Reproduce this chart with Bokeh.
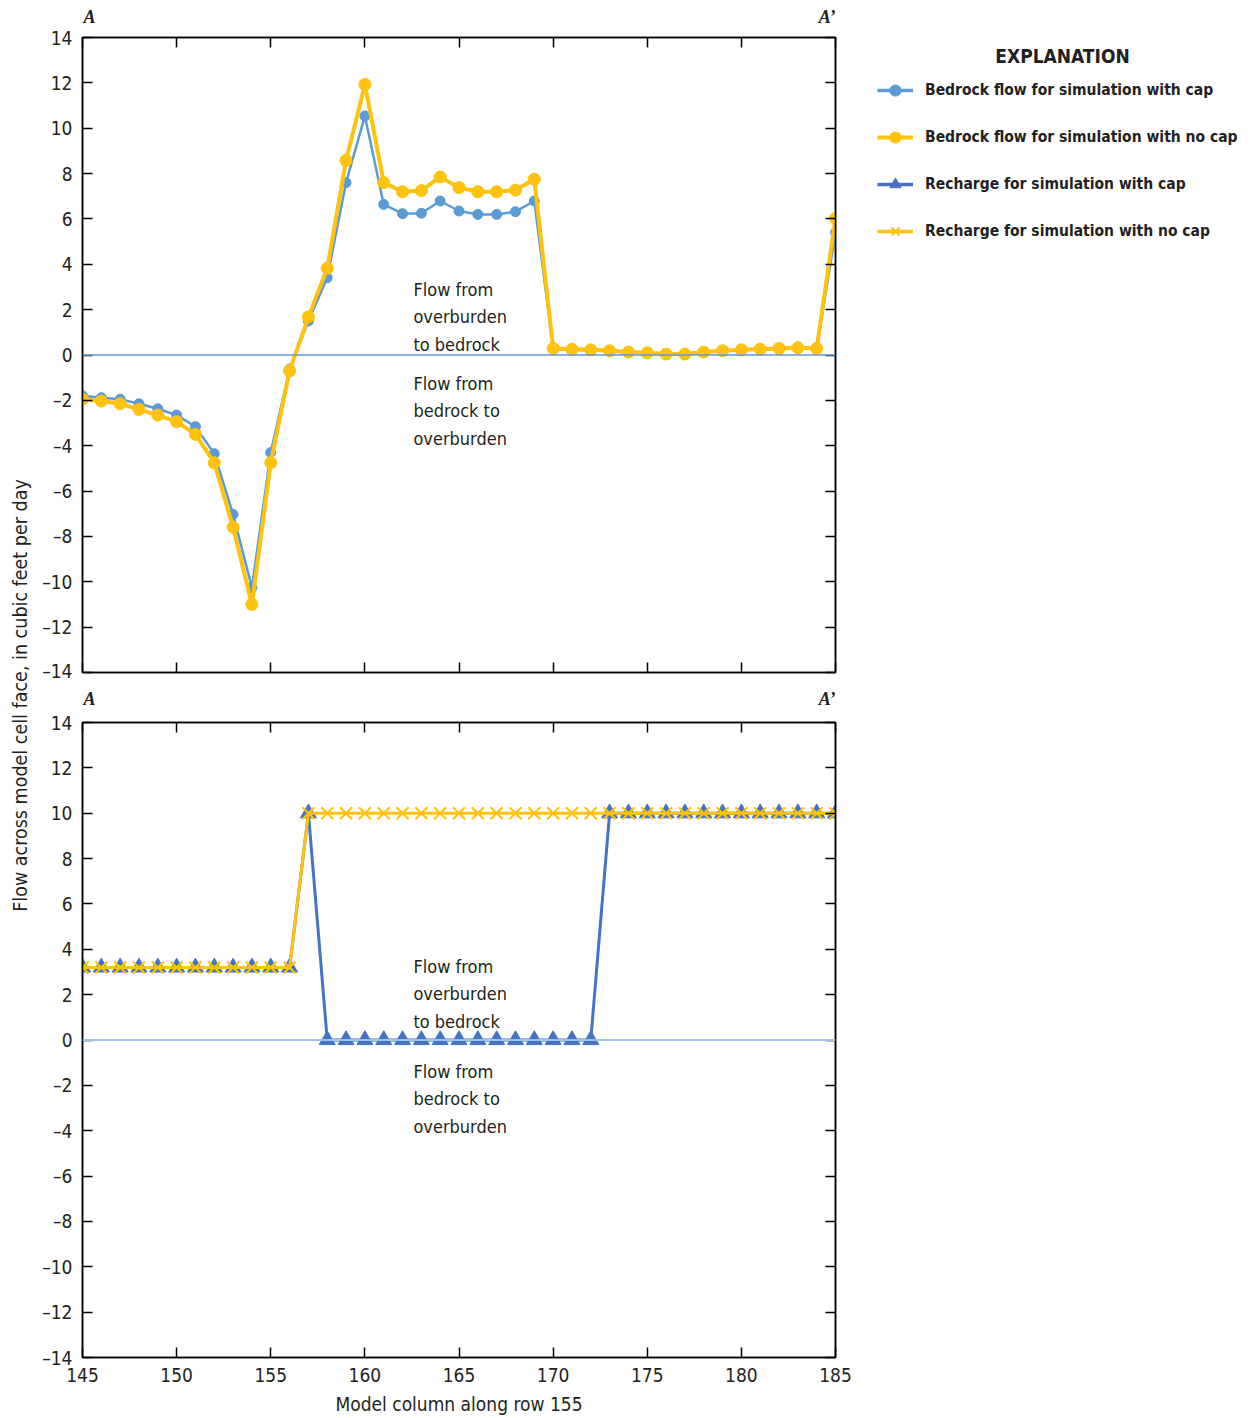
import math
from bokeh.plotting import figure
from bokeh.models import (Span, Label, Legend, LegendItem, LinearAxis, FixedTicker,
                          Range1d, ColumnDataSource)
from bokeh.layouts import row, column
from bokeh.embed import file_html
from bokeh.resources import INLINE

# ---------------- data ----------------
columns = [145, 146, 147, 148, 149, 150, 151, 152, 153, 154, 155, 156, 157, 158, 159,
           160, 161, 162, 163, 164, 165, 166, 167, 168, 169, 170, 171, 172, 173, 174,
           175, 176, 177, 178, 179, 180, 181, 182, 183, 184, 185]

bedrock_cap = [-1.80, -1.88, -1.95, -2.15, -2.37, -2.65, -3.16, -4.35, -7.03, -10.26,
               -4.30, -0.62, 1.50, 3.41, 7.60, 10.54, 6.64, 6.23, 6.25, 6.79,
               6.35, 6.20, 6.20, 6.32, 6.79, 0.27, 0.23, 0.21, 0.17, 0.11,
               0.08, 0.02, 0.02, 0.11, 0.17, 0.21, 0.24, 0.27, 0.30, 0.27, 5.40]

bedrock_nocap = [-1.95, -2.03, -2.15, -2.40, -2.65, -2.94, -3.50, -4.75, -7.60, -11.00,
                 -4.75, -0.70, 1.68, 3.82, 8.58, 11.93, 7.60, 7.20, 7.25, 7.85,
                 7.38, 7.20, 7.20, 7.27, 7.75, 0.29, 0.25, 0.23, 0.19, 0.13,
                 0.10, 0.04, 0.04, 0.13, 0.19, 0.23, 0.26, 0.29, 0.32, 0.29, 6.03]

recharge_cap = [3.2, 3.2, 3.2, 3.2, 3.2, 3.2, 3.2, 3.2, 3.2, 3.2, 3.2, 3.2, 10.0, 0.0, 0.0,
                0.0, 0.0, 0.0, 0.0, 0.0, 0.0, 0.0, 0.0, 0.0, 0.0, 0.0, 0.0, 0.0, 10.0, 10.0,
                10.0, 10.0, 10.0, 10.0, 10.0, 10.0, 10.0, 10.0, 10.0, 10.0, 10.0]

recharge_nocap = [3.2, 3.2, 3.2, 3.2, 3.2, 3.2, 3.2, 3.2, 3.2, 3.2, 3.2, 3.2, 10.0, 10.0, 10.0,
                  10.0, 10.0, 10.0, 10.0, 10.0, 10.0, 10.0, 10.0, 10.0, 10.0, 10.0, 10.0, 10.0, 10.0, 10.0,
                  10.0, 10.0, 10.0, 10.0, 10.0, 10.0, 10.0, 10.0, 10.0, 10.0, 10.0]

x_ticks = [145, 150, 155, 160, 165, 170, 175, 180, 185]
y_ticks = [-14, -12, -10, -8, -6, -4, -2, 0, 2, 4, 6, 8, 10, 12, 14]
y_tick_labels = ["\u201314", "\u201312", "\u201310", "\u20138", "\u20136", "\u20134", "\u20132",
                 "0", "2", "4", "6", "8", "10", "12", "14"]

x_title = "Model column along row 155"
y_title = "Flow across model cell face, in cubic feet per day"
legend_title = "EXPLANATION"
legend_labels = ["Bedrock flow for simulation with cap",
                 "Bedrock flow for simulation with no cap",
                 "Recharge for simulation with cap",
                 "Recharge for simulation with no cap"]
note_up = "Flow from\noverburden\nto bedrock"
note_down = "Flow from\nbedrock to\noverburden"
sec_left = "A"
sec_right = "A\u2019"

# ---------------- style ----------------
FONT = "'Liberation Sans Narrow', 'Arial Narrow', 'DejaVu Sans Condensed', sans-serif"
SERIF = "'Liberation Serif', 'DejaVu Serif', serif"
TXT = "#231f20"
BLUE = "#5b9bd5"
DBLUE = "#4472c4"
YELLOW = "#ffc20e"

FW, FH = 753, 635
LEFTW = 38
BORDER_L = 44
BORDER_R = 20
STRIP1_H, STRIP2_H = 26, 28
TOP_T, TOP_B = 11, 9
BOT_T, BOT_B = 13, 55

src = ColumnDataSource(dict(x=columns, bc=bedrock_cap, bn=bedrock_nocap,
                            rc=recharge_cap, rn=recharge_nocap))
xr = Range1d(145, 185)


def style_axis(ax, labels):
    ax.major_tick_in = 10
    ax.major_tick_out = 0
    ax.minor_tick_in = 0
    ax.minor_tick_out = 0
    ax.axis_line_color = "black"
    ax.axis_line_width = 1.5
    ax.major_tick_line_color = "black"
    ax.major_tick_line_width = 1.5
    ax.major_label_text_font = FONT
    if labels:
        ax.major_label_text_font_size = "19px"
        ax.major_label_text_color = TXT
        ax.major_label_standoff = 10
    else:
        ax.major_label_text_font_size = "1px"
        ax.major_label_text_color = None
        ax.major_label_standoff = 0


def bare(fig):
    fig.xgrid.visible = False
    fig.ygrid.visible = False
    fig.outline_line_color = None
    return fig


def make_panel(top_border, bottom_border, show_x_labels):
    p = figure(frame_width=FW, frame_height=FH,
               min_border_left=BORDER_L, min_border_right=BORDER_R,
               min_border_top=top_border, min_border_bottom=bottom_border,
               x_range=xr, y_range=Range1d(-14, 14),
               output_backend="svg", toolbar_location=None,
               x_axis_location=None, y_axis_location=None)
    p.xgrid.visible = False
    p.ygrid.visible = False
    p.outline_line_color = "black"
    p.outline_line_width = 1.5

    for loc in ["below", "above"]:
        ax = LinearAxis(ticker=FixedTicker(ticks=x_ticks, minor_ticks=[]))
        lab = show_x_labels and loc == "below"
        style_axis(ax, lab)
        if lab:
            ax.axis_label = x_title
            ax.axis_label_text_font = FONT
            ax.axis_label_text_font_size = "19px"
            ax.axis_label_text_font_style = "normal"
            ax.axis_label_text_color = TXT
            ax.axis_label_standoff = 8
        p.add_layout(ax, loc)
    for loc in ["left", "right"]:
        ax = LinearAxis(ticker=FixedTicker(ticks=y_ticks, minor_ticks=[]))
        lab = loc == "left"
        style_axis(ax, lab)
        if lab:
            ax.major_label_overrides = {t: s for t, s in zip(y_ticks, y_tick_labels)}
        p.add_layout(ax, loc)
    return p


def make_strip(h, mid):
    s = figure(frame_width=FW, frame_height=h,
               min_border_left=BORDER_L, min_border_right=BORDER_R,
               min_border_top=0, min_border_bottom=0,
               x_range=xr, y_range=Range1d(h, 0),
               output_backend="svg", toolbar_location=None,
               x_axis_location=None, y_axis_location=None)
    bare(s)
    s.add_layout(Label(x=145, y=mid, text=sec_left, text_align="left",
                       text_baseline="middle", x_offset=1,
                       text_font=SERIF, text_font_style="bold italic",
                       text_font_size="18px", text_color=TXT))
    s.add_layout(Label(x=185, y=mid, text=sec_right, text_align="right",
                       text_baseline="middle", x_offset=0,
                       text_font=SERIF, text_font_style="bold italic",
                       text_font_size="18px", text_color=TXT))
    return s


# ---------------- top panel ----------------
strip1 = make_strip(STRIP1_H, 16)
top = make_panel(TOP_T, TOP_B, False)
top.add_layout(Span(location=0, dimension="width", line_color=BLUE, line_width=1.5))
top.line("x", "bc", source=src, line_color=BLUE, line_width=2.5)
top.scatter("x", "bc", source=src, marker="circle", size=10, fill_color=BLUE, line_color=BLUE)
top.line("x", "bn", source=src, line_color=YELLOW, line_width=4)
top.scatter("x", "bn", source=src, marker="circle", size=12, fill_color=YELLOW, line_color=YELLOW)

for txt, yv in [(note_up, 3.35), (note_down, -0.8)]:
    top.add_layout(Label(x=162.58, y=yv, text=txt, text_align="left", text_baseline="top",
                         text_font=FONT, text_font_size="18px", text_color=TXT,
                         text_line_height=1.3))

# ---------------- bottom panel ----------------
strip2 = make_strip(STRIP2_H, 17.5)
bot = make_panel(BOT_T, BOT_B, True)
bot.add_layout(Span(location=0, dimension="width", line_color="#9dc3e6", line_width=2))
bot.line("x", "rc", source=src, line_color=DBLUE, line_width=3)
bot.scatter("x", "rc", source=src, marker="triangle", size=16, fill_color=DBLUE, line_color=DBLUE)
bot.line("x", "rn", source=src, line_color=YELLOW, line_width=3)
bot.scatter("x", "rn", source=src, marker="x", size=17, line_color=YELLOW, line_width=2)

for txt, yv in [(note_up, 3.7), (note_down, -0.93)]:
    bot.add_layout(Label(x=162.58, y=yv, text=txt, text_align="left", text_baseline="top",
                         text_font=FONT, text_font_size="18px", text_color=TXT,
                         text_line_height=1.3))

total_h = STRIP1_H + (TOP_T + FH + TOP_B) + STRIP2_H + (BOT_T + FH + BOT_B)

# ---------------- left strip with the shared y-axis title ----------------
left = bare(figure(frame_width=LEFTW, frame_height=total_h, min_border=0,
                   x_range=Range1d(0, LEFTW), y_range=Range1d(total_h, 0),
                   output_backend="svg", toolbar_location=None,
                   x_axis_location=None, y_axis_location=None))
left.add_layout(Label(x=20, y=695, text=y_title, angle=math.pi / 2,
                      text_align="center", text_baseline="middle",
                      text_font=FONT, text_font_size="19.5px", text_color=TXT))

# ---------------- legend strip (explanation) ----------------
# The series are drawn here too (for the legend swatches), but the strip's
# x range lies far from the data columns, so only the legend shows them.
x0 = LEFTW + BORDER_L + FW + BORDER_R
LEG_W, LEG_H = 1244 - x0, 270
leg = bare(figure(frame_width=LEG_W, frame_height=LEG_H, min_border=0,
                  x_range=Range1d(-LEG_W, 0), y_range=Range1d(LEG_H, 0),
                  output_backend="svg", toolbar_location=None,
                  x_axis_location=None, y_axis_location=None))

r1l = leg.line("x", "bc", source=src, line_color=BLUE, line_width=3.5)
r1s = leg.scatter("x", "bc", source=src, marker="circle", size=10,
                  fill_color=BLUE, line_color=BLUE)
r2l = leg.line("x", "bn", source=src, line_color=YELLOW, line_width=4)
r2s = leg.scatter("x", "bn", source=src, marker="circle", size=11,
                  fill_color=YELLOW, line_color=YELLOW)
r3l = leg.line("x", "rc", source=src, line_color=DBLUE, line_width=3.5)
r3s = leg.scatter("x", "rc", source=src, marker="triangle", size=15,
                  fill_color=DBLUE, line_color=DBLUE)
r4l = leg.line("x", "rn", source=src, line_color=YELLOW, line_width=3.5)
r4s = leg.scatter("x", "rn", source=src, marker="x", size=15,
                  line_color=YELLOW, line_width=2)

GH, SP = 28, 19
legend = Legend(items=[
    LegendItem(label=legend_labels[0], renderers=[r1l, r1s]),
    LegendItem(label=legend_labels[1], renderers=[r2l, r2s]),
    LegendItem(label=legend_labels[2], renderers=[r3l, r3s]),
    LegendItem(label=legend_labels[3], renderers=[r4l, r4s]),
], location=(877 - x0, LEG_H - (90 - GH // 2) - (4 * GH + 3 * SP)))
legend.margin = 0
legend.padding = 0
legend.spacing = SP
legend.glyph_width = 36
legend.glyph_height = GH
legend.label_height = GH
legend.label_standoff = 12
legend.label_text_font = FONT
legend.label_text_font_style = "bold"
legend.label_text_font_size = "15.5px"
legend.label_text_color = TXT
legend.border_line_color = None
legend.background_fill_alpha = 0
leg.add_layout(legend, "center")

leg.add_layout(Label(x=1062 - x0 - LEG_W, y=55, text=legend_title,
                     text_align="center", text_baseline="middle", text_font=FONT,
                     text_font_style="bold", text_font_size="19px", text_color=TXT))

layout = row(left, column(strip1, top, strip2, bot), leg)

with open("out.html", "w") as f:
    f.write(file_html(layout, INLINE))
